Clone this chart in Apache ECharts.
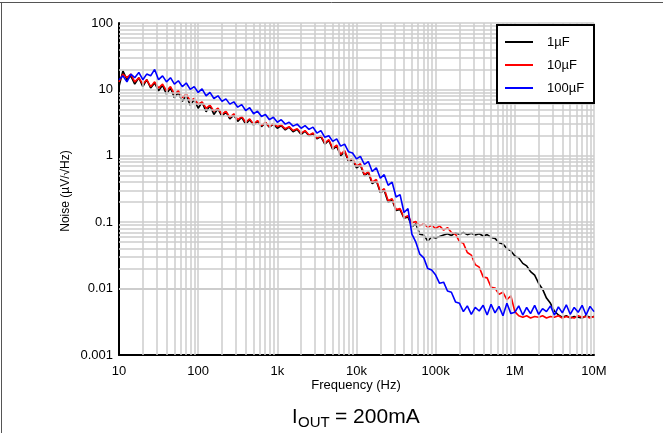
<!DOCTYPE html>
<html>
<head>
<meta charset="utf-8">
<script src="https://cdn.jsdelivr.net/npm/echarts@6/dist/echarts.min.js"></script>
<style>
html,body{margin:0;padding:0;background:#fff;}
#chart{width:663px;height:433px;}
</style>
</head>
<body>
<div id="chart"></div>
<script>
// ---- data ----
var seriesNames = ['1µF', '10µF', '100µF'];
var xTickLabels = ['10', '100', '1k', '10k', '100k', '1M', '10M'];
var yTickLabels = ['0.001', '0.01', '0.1', '1', '10', '100'];

var freq = [
  10,11.2,12.6,14.1,15.8,17.8,20,22.4,25.1,28.2,31.6,35.5,39.8,44.7,50.1,56.2,63.1,70.8,79.4,89.1,
  100,112,126,141,158,178,200,224,251,282,316,355,398,447,501,562,631,708,794,891,
  1.00e3,1.12e3,1.26e3,1.41e3,1.58e3,1.78e3,2.00e3,2.24e3,2.51e3,2.82e3,3.16e3,3.55e3,3.98e3,4.47e3,5.01e3,5.62e3,6.31e3,7.08e3,7.94e3,8.91e3,
  1.00e4,1.12e4,1.26e4,1.41e4,1.58e4,1.78e4,2.00e4,2.24e4,2.51e4,2.82e4,3.16e4,3.55e4,3.98e4,4.47e4,5.01e4,5.62e4,6.31e4,7.08e4,7.94e4,8.91e4,
  1.00e5,1.12e5,1.26e5,1.41e5,1.58e5,1.78e5,2.00e5,2.24e5,2.51e5,2.82e5,3.16e5,3.55e5,3.98e5,4.47e5,5.01e5,5.62e5,6.31e5,7.08e5,7.94e5,8.91e5,
  1.00e6,1.12e6,1.26e6,1.41e6,1.58e6,1.78e6,2.00e6,2.24e6,2.51e6,2.82e6,3.16e6,3.55e6,3.98e6,4.47e6,5.01e6,5.62e6,6.31e6,7.08e6,7.94e6,8.91e6,
  1.00e7
];

var noise1uF = [
  11,19,14,16,12,15,11,14,10.5,12.5,9.5,11.5,8.5,10.5,7.5,9.0,6.6,8.0,5.8,7.0,
  5.2,6.4,4.6,5.7,4.2,5.1,3.9,4.6,3.6,4.1,3.3,3.8,3.0,3.5,2.9,3.3,2.75,3.15,2.7,3.0,
  2.6,2.85,2.45,2.7,2.3,2.5,2.1,2.35,2.0,2.15,1.8,1.95,1.5,1.7,1.25,1.4,1.0,1.15,0.82,0.86,
  0.66,0.72,0.50,0.56,0.38,0.42,0.28,0.30,0.20,0.215,0.15,0.155,0.115,0.12,0.086,0.094,0.066,0.064,0.052,0.060,
  0.058,0.061,0.064,0.067,0.063,0.069,0.066,0.070,0.065,0.068,0.064,0.067,0.062,0.065,0.059,0.057,0.049,0.047,0.040,0.037,
  0.031,0.029,0.024,0.022,0.018,0.016,0.012,0.0098,0.0072,0.0060,0.0046,0.0040,0.0037,0.0039,0.0036,0.0038,0.0037,0.0036,0.0039,0.0037,
  0.0038
];

var noise10uF = [
  13,17,15,17,13,15,12,14,11,13,10.5,12,9.5,11,8.5,9.5,7.5,8.5,6.7,7.3,
  6.0,6.5,5.2,5.8,4.7,5.2,4.2,4.7,3.8,4.3,3.5,3.9,3.2,3.6,3.0,3.4,2.85,3.2,2.75,3.05,
  2.75,2.9,2.55,2.75,2.4,2.55,2.2,2.4,2.05,2.2,1.85,2.0,1.55,1.75,1.3,1.45,1.05,1.2,0.86,0.9,
  0.70,0.76,0.52,0.58,0.40,0.44,0.29,0.32,0.21,0.225,0.155,0.16,0.118,0.125,0.098,0.102,0.089,0.094,0.084,0.090,
  0.080,0.088,0.076,0.083,0.070,0.066,0.051,0.048,0.035,0.032,0.023,0.021,0.015,0.0145,0.0105,0.0102,0.0082,0.0088,0.0068,0.0078,
  0.0045,0.0039,0.0037,0.0039,0.0036,0.0038,0.0037,0.0039,0.0036,0.0038,0.0037,0.0039,0.0036,0.0038,0.0037,0.0036,0.0039,0.0037,0.0038,0.0036,
  0.0038
];

var noise100uF = [
  14,16,13,17,15,18,14,17,16,20,14,16,13,15,12,13.5,11,12.5,10,11,
  9.0,10.2,8.0,9.0,7.3,8.0,6.6,7.2,6.0,6.5,5.4,5.9,4.8,5.3,4.3,4.7,3.9,4.2,3.5,3.8,
  3.2,3.5,3.0,3.2,2.8,3.0,2.6,2.85,2.5,2.7,2.2,2.4,1.9,2.0,1.65,1.8,1.4,1.5,1.15,1.1,
  0.90,0.98,0.74,0.82,0.58,0.66,0.46,0.52,0.36,0.40,0.24,0.26,0.14,0.16,0.066,0.050,0.033,0.029,0.020,0.019,
  0.016,0.012,0.0125,0.0092,0.0088,0.0063,0.0060,0.0045,0.0055,0.0041,0.0052,0.0046,0.0056,0.0040,0.0058,0.0043,0.0054,0.0039,0.0060,0.0042,
  0.0044,0.0055,0.0040,0.0052,0.0042,0.0056,0.0041,0.0050,0.0045,0.0055,0.0040,0.0053,0.0043,0.0057,0.0041,0.0052,0.0044,0.0056,0.0040,0.0054,
  0.0045
];

// ---- chart ----
var FONT = '"Liberation Sans", Arial, Helvetica, sans-serif';
var GRID_COLOR = '#cccccc';
var COLORS = ['#000000', '#ff0000', '#0000ff'];

function pairs(vals) {
  return freq.map(function (f, i) { return [f, vals[i]]; });
}

// minor grid positions (2..9 within each decade)
var minorX = [], minorY = [];
for (var d = 1; d < 7; d++) for (var m = 2; m < 10; m++) minorX.push({ xAxis: m * Math.pow(10, d) });
for (var e = -3; e < 2; e++) for (var m2 = 2; m2 < 10; m2++) minorY.push({ yAxis: +(m2 * Math.pow(10, e)).toPrecision(3) });

var chart = echarts.init(document.getElementById('chart'), null, { renderer: 'canvas' });

var option = {
  animation: false,
  backgroundColor: '#ffffff',
  textStyle: { fontFamily: FONT },
  grid: { left: 119, right: 69, top: 23, bottom: 78, containLabel: false },
  xAxis: {
    type: 'log', logBase: 10, min: 10, max: 1e7,
    axisLine: { show: true, onZero: false, lineStyle: { color: '#000', width: 2 } },
    axisTick: { show: false },
    splitLine: { show: true, lineStyle: { color: GRID_COLOR, width: 1.5 } },
    axisLabel: {
      color: '#000', fontSize: 13, fontFamily: FONT, margin: 10,
      formatter: function (v) { return xTickLabels[Math.round(Math.log10(v)) - 1]; }
    }
  },
  yAxis: {
    type: 'log', logBase: 10, min: 0.001, max: 100,
    axisLine: { show: true, onZero: false, lineStyle: { color: '#000', width: 2 } },
    axisTick: { show: false },
    splitLine: { show: true, lineStyle: { color: GRID_COLOR, width: 1.5 } },
    axisLabel: {
      color: '#000', fontSize: 13, fontFamily: FONT, margin: 6,
      formatter: function (v) { return yTickLabels[Math.round(Math.log10(v)) + 3]; }
    }
  },
  legend: {
    data: seriesNames.map(function (n, i) {
      return { name: n, icon: 'rect', itemStyle: { color: COLORS[i], borderWidth: 0 } };
    }),
    orient: 'vertical',
    left: 505, top: 34,
    itemWidth: 28, itemHeight: 2, itemGap: 7,
    padding: 0,
    z: 20,
    textStyle: { color: '#000', fontSize: 13, fontFamily: FONT, lineHeight: 16, padding: [0, 0, 0, 9] }
  },
  graphic: [
    { type: 'line', shape: { x1: 0, y1: 2.5, x2: 663, y2: 2.5 }, style: { stroke: '#555', lineWidth: 1 }, z: 30 },
    { type: 'line', shape: { x1: 1.5, y1: 2.5, x2: 1.5, y2: 433 }, style: { stroke: '#555', lineWidth: 1 }, z: 30 },
    { type: 'rect', shape: { x: 497, y: 25, width: 97, height: 78 }, style: { fill: '#fff', stroke: '#000', lineWidth: 2 }, z: 10 },
    { type: 'text', x: 66, y: 191, rotation: Math.PI / 2, z: 30,
      style: { text: 'Noise (µV/√Hz)', fill: '#000', font: '12px ' + FONT, align: 'center', verticalAlign: 'middle' } },
    { type: 'text', x: 356, y: 385, z: 30,
      style: { text: 'Frequency (Hz)', fill: '#000', font: '13px ' + FONT, align: 'center', verticalAlign: 'middle' } },
    { type: 'text', x: 292, y: 417, z: 30,
      style: { text: 'I', fill: '#000', font: '20px ' + FONT, align: 'left', verticalAlign: 'middle' } },
    { type: 'text', x: 298, y: 423, z: 30,
      style: { text: 'OUT', fill: '#000', font: '15px ' + FONT, align: 'left', verticalAlign: 'middle' } },
    { type: 'text', x: 335, y: 417, z: 30,
      style: { text: '= 200mA', fill: '#000', font: '21px ' + FONT, align: 'left', verticalAlign: 'middle' } }
  ],
  series: [
    {
      name: '_grid', type: 'line', data: [], z: 1, silent: true,
      markLine: {
        silent: true, symbol: ['none', 'none'], animation: false,
        label: { show: false },
        lineStyle: { color: GRID_COLOR, width: 1.5, type: 'solid' },
        emphasis: { disabled: true },
        data: minorX.concat(minorY)
      }
    },
    { name: seriesNames[0], type: 'line', data: pairs(noise1uF), symbol: 'none', z: 3,
      lineStyle: { color: COLORS[0], width: 1.6 }, itemStyle: { color: COLORS[0] } },
    { name: seriesNames[1], type: 'line', data: pairs(noise10uF), symbol: 'none', z: 4,
      lineStyle: { color: COLORS[1], width: 1.6 }, itemStyle: { color: COLORS[1] } },
    { name: seriesNames[2], type: 'line', data: pairs(noise100uF), symbol: 'none', z: 5,
      lineStyle: { color: COLORS[2], width: 1.6 }, itemStyle: { color: COLORS[2] } }
  ]
};
chart.setOption(option);
</script>
</body>
</html>
